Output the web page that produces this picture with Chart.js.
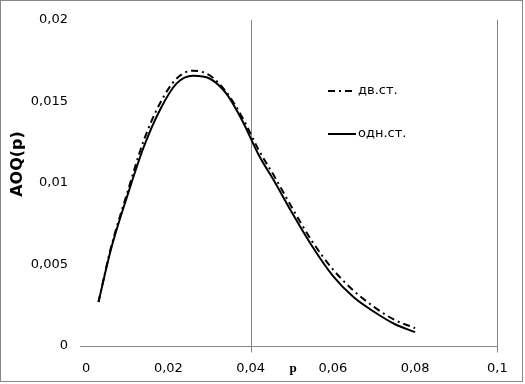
<!DOCTYPE html>
<html>
<head>
<meta charset="utf-8">
<script src="https://cdn.jsdelivr.net/npm/chart.js@4.4.0/dist/chart.umd.min.js"></script>
<style>
  html, body { margin: 0; padding: 0; background: #fff; }
  #wrap { width: 525px; height: 384px; }
</style>
</head>
<body>
<div id="wrap"><canvas id="aoq" width="525" height="384"></canvas></div>
<script>
// p values and AOQ(p)
const pVals = [0.003, 0.006, 0.01, 0.014, 0.018, 0.022, 0.026, 0.03, 0.034, 0.038,
  0.042, 0.046, 0.05, 0.055, 0.06, 0.065, 0.07, 0.075, 0.08]
const aoqDouble = [0.0027, 0.0060, 0.0094, 0.0126, 0.0149, 0.0164, 0.01688, 0.0166, 0.0156, 0.0140,
  0.0120, 0.0103, 0.0085, 0.0064, 0.0047, 0.0034, 0.0024, 0.0016, 0.0011]
const aoqSingle = [0.0027, 0.0059, 0.0092, 0.0122, 0.0145, 0.0161, 0.01657, 0.0164, 0.0155, 0.0138,
  0.0117, 0.0100, 0.0082, 0.0061, 0.0043, 0.0030, 0.0021, 0.00135, 0.00085]
const seriesNames = ['дв.ст.', 'одн.ст.']
const xTicks = [0, 0.02, 0.04, 0.06, 0.08, 0.1]
const yTicks = [0, 0.005, 0.01, 0.015, 0.02]
const xGridAt = [0.04, 0.1]

const font = 'DejaVu Sans'
const gray = '#868686'
const dashDot = [7, 4, 2, 4]

const fmt = (v) => String(+v.toFixed(4)).replace('.', ',')
const toPts = (ys) => pVals.map((p, i) => ({ x: p, y: ys[i] }))
const crisp = (v) => Math.round(v) + 0.5

// axis line at y=0 and the two vertical lines (at 0.04 and 0.1), placed by the scales
const axisLines = {
  id: 'axisLines',
  beforeDatasetsDraw(chart) {
    const { ctx, chartArea } = chart
    const sx = chart.scales.x
    const sy = chart.scales.y
    const y0 = crisp(sy.getPixelForValue(0))
    const yTop = sy.getPixelForValue(yTicks[yTicks.length - 1])
    ctx.save()
    ctx.strokeStyle = gray
    ctx.lineWidth = 1
    ctx.beginPath()
    ctx.moveTo(chartArea.left, y0)
    ctx.lineTo(crisp(sx.getPixelForValue(0.1)) + 0.5, y0)
    xGridAt.forEach(v => {
      const px = crisp(sx.getPixelForValue(v))
      ctx.moveTo(px, yTop)
      ctx.lineTo(px, y0 + 6)
    })
    ctx.stroke()
    ctx.restore()
  }
}

// frame, axis titles and legend
const extras = {
  id: 'extras',
  afterDraw(chart) {
    const ctx = chart.ctx
    ctx.save()
    ctx.strokeStyle = gray
    ctx.lineWidth = 1
    ctx.strokeRect(0.5, 0.5, 522, 381)

    ctx.fillStyle = '#000'
    ctx.font = 'bold 16px "' + font + '"'
    ctx.textAlign = 'center'
    ctx.textBaseline = 'middle'
    ctx.translate(18, 164)
    ctx.rotate(-Math.PI / 2)
    ctx.fillText('AOQ(p)', 0, 0)
    ctx.setTransform(1, 0, 0, 1, 0, 0)

    ctx.font = 'bold 13px "Liberation Serif"'
    ctx.fillText('p', 293, 369)

    const rows = [[91, dashDot, seriesNames[0]], [134, [], seriesNames[1]]]
    ctx.font = '13px "' + font + '"'
    ctx.textAlign = 'left'
    rows.forEach(([y, dash, name]) => {
      ctx.strokeStyle = '#000'
      ctx.lineWidth = 2
      ctx.setLineDash(dash)
      ctx.beginPath()
      ctx.moveTo(328, y)
      ctx.lineTo(356, y)
      ctx.stroke()
      ctx.setLineDash([])
      ctx.fillText(name, 358, y)
    })
    ctx.restore()
  }
}

new Chart(document.getElementById('aoq'), {
  type: 'line',
  data: {
    datasets: [
      {
        label: seriesNames[0],
        data: toPts(aoqDouble),
        borderColor: '#000',
        borderWidth: 2,
        borderDash: dashDot,
        pointRadius: 0,
        cubicInterpolationMode: 'monotone',
        fill: false
      },
      {
        label: seriesNames[1],
        data: toPts(aoqSingle),
        borderColor: '#000',
        borderWidth: 2,
        pointRadius: 0,
        cubicInterpolationMode: 'monotone',
        fill: false
      }
    ]
  },
  options: {
    responsive: false,
    animation: false,
    layout: { padding: { left: 0, right: 26, top: 19, bottom: 0 } },
    plugins: { legend: { display: false }, tooltip: { enabled: false } },
    scales: {
      x: {
        type: 'linear',
        min: -0.0015,
        max: 0.1004,
        afterBuildTicks: (s) => { s.ticks = xTicks.map(v => ({ value: v })) },
        afterFit: (s) => { s.height = 38 },
        border: { display: false },
        grid: { display: false, drawTicks: false },
        ticks: {
          color: '#000',
          font: { family: font, size: 13 },
          padding: 15,
          maxRotation: 0,
          autoSkip: false,
          callback: (v) => fmt(v)
        }
      },
      y: {
        min: 0,
        max: 0.02,
        afterBuildTicks: (s) => { s.ticks = yTicks.map(v => ({ value: v })) },
        afterFit: (s) => { s.width = 80 },
        border: { display: false },
        grid: { display: false, drawTicks: false },
        ticks: {
          color: '#000',
          font: { family: font, size: 13 },
          padding: 12,
          callback: (v) => fmt(v)
        }
      }
    }
  },
  plugins: [axisLines, extras]
})
</script>
</body>
</html>
